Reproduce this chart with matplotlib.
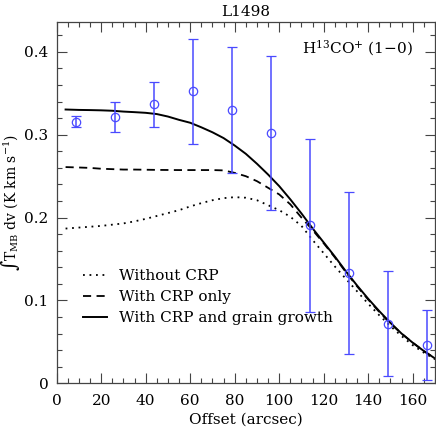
import numpy as np
import matplotlib
matplotlib.use("Agg")
import matplotlib.pyplot as plt
from matplotlib.ticker import MultipleLocator

plt.rcParams['font.family'] = ['DejaVu Serif']
plt.rcParams['mathtext.fontset'] = 'dejavuserif'
plt.rcParams['mathtext.default'] = 'regular'

# Observations
obs_offset = [8.75, 26.25, 43.75, 61.25, 78.75, 96.25, 113.75, 131.25, 148.75, 166.25]
obs_value = [0.316, 0.321, 0.337, 0.353, 0.330, 0.302, 0.191, 0.133, 0.072, 0.046]
obs_err_hi = [0.323, 0.340, 0.364, 0.416, 0.406, 0.395, 0.295, 0.231, 0.136, 0.089]
obs_err_lo = [0.309, 0.303, 0.309, 0.289, 0.254, 0.209, 0.086, 0.035, 0.009, 0.004]

# Model curves
model_offset = [4, 10, 15, 20, 25, 30, 35, 40, 45, 50, 55, 60, 65, 70, 75, 80, 85, 90, 95,
                100, 105, 110, 115, 120, 125, 130, 135, 140, 145, 150, 155, 160, 165, 170]
no_crp = [0.1868, 0.188, 0.189, 0.190, 0.1915, 0.193, 0.1955, 0.1985, 0.202, 0.2055, 0.209,
          0.2135, 0.2175, 0.221, 0.2235, 0.2247, 0.224, 0.221, 0.215,
          0.209, 0.201, 0.190, 0.173, 0.157, 0.141, 0.126, 0.111, 0.096, 0.082, 0.069,
          0.057, 0.046, 0.037, 0.029]
crp_only = [0.261, 0.2605, 0.260, 0.259, 0.2585, 0.258, 0.258, 0.2578, 0.2576, 0.2575, 0.2574,
            0.2574, 0.2574, 0.2574, 0.257, 0.254, 0.250, 0.244, 0.236,
            0.228, 0.216, 0.200, 0.185, 0.169, 0.152, 0.134, 0.117, 0.101, 0.086, 0.072,
            0.060, 0.049, 0.039, 0.030]
crp_grain = [0.3305, 0.330, 0.3298, 0.3295, 0.329, 0.328, 0.3273, 0.3265, 0.325, 0.322, 0.318,
             0.3145, 0.309, 0.303, 0.296, 0.287, 0.277, 0.265, 0.252,
             0.238, 0.222, 0.205, 0.187, 0.170, 0.153, 0.135, 0.118, 0.102, 0.087, 0.073,
             0.060, 0.049, 0.039, 0.030]

fig = plt.figure(figsize=(4.36, 4.32), dpi=100)
ax = fig.add_axes([0.130, 0.1127, 0.8677, 0.8371])

ax.plot(model_offset, no_crp, color='black', linestyle=(0, (1, 2.6)), lw=1.3, label='Without CRP')
ax.plot(model_offset, crp_only, color='black', linestyle=(0, (4.5, 3)), lw=1.3, label='With CRP only')
ax.plot(model_offset, crp_grain, color='black', linestyle='-', lw=1.4, label='With CRP and grain growth')

yerr = [np.array(obs_value) - np.array(obs_err_lo), np.array(obs_err_hi) - np.array(obs_value)]
ax.errorbar(obs_offset, obs_value, yerr=yerr, fmt='o', mfc='none', mec='#4a4aff', ms=6,
            mew=0.9, ecolor='#4a4aff', elinewidth=1.1, capsize=3.5, capthick=1.1)

ax.set_xlim(0, 170)
ax.set_ylim(0, 0.4365)
ax.xaxis.set_major_locator(MultipleLocator(20))
ax.xaxis.set_minor_locator(MultipleLocator(5))
ax.yaxis.set_major_locator(MultipleLocator(0.1))
ax.yaxis.set_minor_locator(MultipleLocator(0.02))
ax.set_yticks([0, 0.1, 0.2, 0.3, 0.4])
ax.set_yticklabels(['0', '0.1', '0.2', '0.3', '0.4'])
ax.tick_params(which='both', direction='in', top=True, right=True, labelsize=11, color='#444444')
ax.tick_params(which='major', length=7, width=0.8)
ax.tick_params(which='minor', length=3.5, width=0.8)
ax.tick_params(axis='x', pad=8)
ax.tick_params(axis='y', pad=6)
for s in ax.spines.values():
    s.set_linewidth(0.9)
    s.set_color('#444444')

ax.set_xlabel('Offset (arcsec)', fontsize=11, labelpad=3)
ax.set_ylabel('\u222bT$_{MB}$ dv (K km s$^{-1}$)', fontsize=10)
ax.yaxis.set_label_coords(-0.092, 0.5)
ax.set_title('L1498', fontsize=11, pad=4)
ax.text(0.942, 0.927, 'H$^{13}$CO$^{+}$ (1$-$0)', transform=ax.transAxes, ha='right', va='center',
        fontsize=11)

ax.legend(loc='lower left', bbox_to_anchor=(0.04, 0.132), frameon=False, fontsize=11,
          handlelength=1.6, handletextpad=0.8, labelspacing=0.45, borderpad=0.2)

fig.savefig('out.png', dpi=100)
